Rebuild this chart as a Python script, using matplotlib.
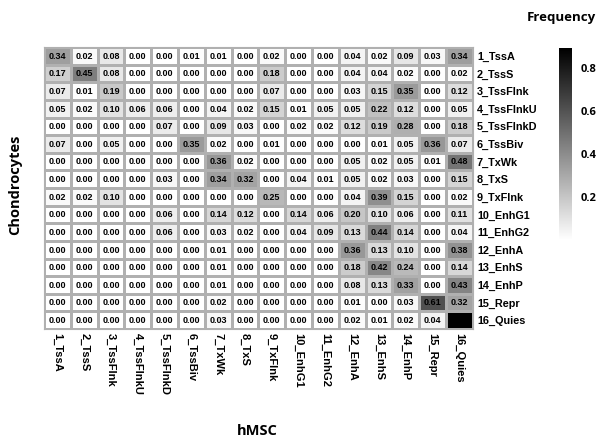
import numpy as np
import matplotlib
matplotlib.use("Agg")
import matplotlib.pyplot as plt

states = ['1_TssA', '2_TssS', '3_TssFlnk', '4_TssFlnkU', '5_TssFlnkD', '6_TssBiv',
          '7_TxWk', '8_TxS', '9_TxFlnk', '10_EnhG1', '11_EnhG2', '12_EnhA',
          '13_EnhS', '14_EnhP', '15_Repr', '16_Quies']

# rows: Chondrocytes states, columns: hMSC states
freq = np.array([
    [0.34, 0.02, 0.08, 0.00, 0.00, 0.01, 0.01, 0.00, 0.02, 0.00, 0.00, 0.04, 0.02, 0.09, 0.03, 0.34],
    [0.17, 0.45, 0.08, 0.00, 0.00, 0.00, 0.00, 0.00, 0.18, 0.00, 0.00, 0.04, 0.04, 0.02, 0.00, 0.02],
    [0.07, 0.01, 0.19, 0.00, 0.00, 0.00, 0.00, 0.00, 0.07, 0.00, 0.00, 0.03, 0.15, 0.35, 0.00, 0.12],
    [0.05, 0.02, 0.10, 0.06, 0.06, 0.00, 0.04, 0.02, 0.15, 0.01, 0.05, 0.05, 0.22, 0.12, 0.00, 0.05],
    [0.00, 0.00, 0.00, 0.00, 0.07, 0.00, 0.09, 0.03, 0.00, 0.02, 0.02, 0.12, 0.19, 0.28, 0.00, 0.18],
    [0.07, 0.00, 0.05, 0.00, 0.00, 0.35, 0.02, 0.00, 0.01, 0.00, 0.00, 0.00, 0.01, 0.05, 0.36, 0.07],
    [0.00, 0.00, 0.00, 0.00, 0.00, 0.00, 0.36, 0.02, 0.00, 0.00, 0.00, 0.05, 0.02, 0.05, 0.01, 0.48],
    [0.00, 0.00, 0.00, 0.00, 0.03, 0.00, 0.34, 0.32, 0.00, 0.04, 0.01, 0.05, 0.02, 0.03, 0.00, 0.15],
    [0.02, 0.02, 0.10, 0.00, 0.00, 0.00, 0.00, 0.00, 0.25, 0.00, 0.00, 0.04, 0.39, 0.15, 0.00, 0.02],
    [0.00, 0.00, 0.00, 0.00, 0.06, 0.00, 0.14, 0.12, 0.00, 0.14, 0.06, 0.20, 0.10, 0.06, 0.00, 0.11],
    [0.00, 0.00, 0.00, 0.00, 0.06, 0.00, 0.03, 0.02, 0.00, 0.04, 0.09, 0.13, 0.44, 0.14, 0.00, 0.04],
    [0.00, 0.00, 0.00, 0.00, 0.00, 0.00, 0.01, 0.00, 0.00, 0.00, 0.00, 0.36, 0.13, 0.10, 0.00, 0.38],
    [0.00, 0.00, 0.00, 0.00, 0.00, 0.00, 0.01, 0.00, 0.00, 0.00, 0.00, 0.18, 0.42, 0.24, 0.00, 0.14],
    [0.00, 0.00, 0.00, 0.00, 0.00, 0.00, 0.01, 0.00, 0.00, 0.00, 0.00, 0.08, 0.13, 0.33, 0.00, 0.43],
    [0.00, 0.00, 0.00, 0.00, 0.00, 0.00, 0.02, 0.00, 0.00, 0.00, 0.00, 0.01, 0.00, 0.03, 0.61, 0.32],
    [0.00, 0.00, 0.00, 0.00, 0.00, 0.00, 0.03, 0.00, 0.00, 0.00, 0.00, 0.02, 0.01, 0.02, 0.04, 0.89],
])

fig = plt.figure(figsize=(5.98, 4.44), dpi=100)
ax = fig.add_axes([0.0736, 0.259, 0.717, 0.635])

mesh = ax.pcolormesh(freq, cmap='gray_r', vmin=0, vmax=0.89,
                     edgecolors='#b0b0b0', linewidth=0.8)
ax.set_xlim(0, 16)
ax.set_ylim(16, 0)

# cell values
for i in range(16):
    for j in range(16):
        if i == 15 and j == 15:
            continue
        ax.text(j + 0.5, i + 0.52, '%.2f' % freq[i, j], ha='center', va='center',
                fontsize=6.5, fontweight='bold', family='Liberation Sans')

ax.set_xticks(np.arange(16) + 0.5)
ax.set_xticklabels(states, rotation=270, fontsize=8, fontweight='bold',
                   family='Liberation Sans', va='top', ha='center')
ax.set_yticks(np.arange(16) + 0.5)
ax.set_yticklabels(states, fontsize=7.8, fontweight='bold', family='Liberation Sans')
ax.yaxis.tick_right()
ax.tick_params(length=0, pad=3)
for s in ax.spines.values():
    s.set_color('#b0b0b0')

fig.text(0.431, 0.03, 'hMSC', ha='center', va='center', fontsize=10.5,
         fontweight='bold', family='Open Sans')
fig.text(0.026, 0.583, 'Chondrocytes', ha='center', va='center', rotation=90,
         fontsize=10.5, fontweight='bold', family='Open Sans')

# colour bar
cax = fig.add_axes([0.935, 0.459, 0.022, 0.432])
cb = fig.colorbar(mesh, cax=cax, ticks=[0.2, 0.4, 0.6, 0.8])
cb.outline.set_visible(False)
cax.tick_params(length=0, pad=6)
for t in cax.get_yticklabels():
    t.set_fontsize(8)
    t.set_fontweight('bold')
    t.set_family('Open Sans')
fig.text(0.997, 0.96, 'Frequency', ha='right', va='center', fontsize=9.5,
         fontweight='bold', family='Open Sans')

fig.savefig('out.png', dpi=100)
